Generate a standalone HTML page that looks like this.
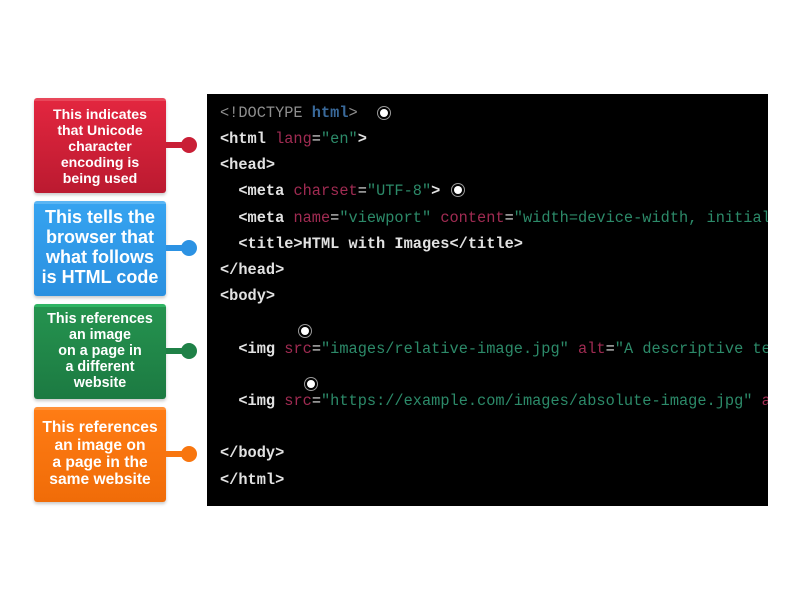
<!DOCTYPE html>
<html lang="en">
<head>
<meta charset="utf-8">
<title>HTML annotations</title>
<style>
html,body{margin:0;padding:0;background:#fff;}
body{width:800px;height:600px;position:relative;overflow:hidden;}
.code{position:absolute;left:207px;top:94px;width:561px;height:412px;background:#000;overflow:hidden;}
.l{position:absolute;left:13px;white-space:pre;font:bold 15.3px/20px "Liberation Mono",monospace;color:#e2e2e2;}
.n{font-weight:normal;}
.g{color:#8f8f8f;font-weight:normal;}
.b{color:#39699a;}
.r{color:#a02b52;font-weight:normal;}
.s{color:#2c8a69;font-weight:normal;}
.box{position:absolute;left:34px;width:132px;border-radius:3px;color:#fff;font-family:"Liberation Sans",sans-serif;font-weight:bold;text-align:center;box-shadow:0 2px 3px rgba(0,0,0,.22);display:flex;align-items:center;justify-content:center;box-sizing:border-box;}
.box div{width:100%;}
.line{position:absolute;left:166px;width:18px;height:6px;}
.dot{position:absolute;left:181px;width:16px;height:16px;border-radius:50%;}
.m{position:absolute;width:8px;height:8px;border-radius:50%;background:#fff;box-shadow:0 0 0 2px #000,0 0 0 3px #999;}
</style>
</head>
<body>
<div class="box" style="top:98px;height:95px;background:linear-gradient(#e2263f,#bb1a30);border-top:3px solid #e8475a;font-size:14.1px;line-height:16px;padding-bottom:3px;"><div>This indicates<br>that Unicode<br>character<br>encoding is<br>being used</div></div>
<div class="line" style="top:142px;background:#c91f36;"></div><div class="dot" style="top:137px;background:#c91f36;"></div>

<div class="box" style="top:201px;height:95px;background:linear-gradient(#36a3f0,#2a90e0);border-top:3px solid #5bb5f3;font-size:18px;line-height:20px;padding-bottom:6px;"><div>This tells the<br>browser that<br>what follows<br>is HTML code</div></div>
<div class="line" style="top:245px;background:#2c92e3;"></div><div class="dot" style="top:240px;background:#2c92e3;"></div>

<div class="box" style="top:304px;height:95px;background:linear-gradient(#25934f,#1c7a42);border-top:3px solid #2fb463;font-size:14.3px;line-height:16px;padding-bottom:4px;"><div>This references<br>an image<br>on a page in<br>a different<br>website</div></div>
<div class="line" style="top:348px;background:#1f8147;"></div><div class="dot" style="top:343px;background:#1f8147;"></div>

<div class="box" style="top:407px;height:95px;background:linear-gradient(#ff7c14,#f06c08);border-top:3px solid #ff9138;font-size:15.6px;line-height:17.3px;padding-bottom:4px;"><div>This references<br>an image on<br>a page in the<br>same website</div></div>
<div class="line" style="top:451px;background:#f8760f;"></div><div class="dot" style="top:446px;background:#f8760f;"></div>

<div class="code">
<div class="l" style="top:9px;"><span class="g">&lt;!DOCTYPE </span><span class="b">html</span><span class="g">&gt;</span></div>
<div class="l" style="top:35px;">&lt;html <span class="r">lang</span><span class="n">=</span><span class="s">"en"</span>&gt;</div>
<div class="l" style="top:61px;">&lt;head&gt;</div>
<div class="l" style="top:87px;">  &lt;meta <span class="r">charset</span><span class="n">=</span><span class="s">"UTF-8"</span>&gt;</div>
<div class="l" style="top:114px;">  &lt;meta <span class="r">name</span><span class="n">=</span><span class="s">"viewport"</span> <span class="r">content</span><span class="n">=</span><span class="s">"width=device-width, initial-scale=1.0"</span>&gt;</div>
<div class="l" style="top:140px;">  &lt;title&gt;HTML with Images&lt;/title&gt;</div>
<div class="l" style="top:166px;">&lt;/head&gt;</div>
<div class="l" style="top:192px;">&lt;body&gt;</div>
<div class="l" style="top:245px;">  &lt;img <span class="r">src</span><span class="n">=</span><span class="s">"images/relative-image.jpg"</span> <span class="r">alt</span><span class="n">=</span><span class="s">"A descriptive text"</span>&gt;</div>
<div class="l" style="top:297px;">  &lt;img <span class="r">src</span><span class="n">=</span><span class="s">"https://example.com/images/absolute-image.jpg"</span> <span class="r">alt</span><span class="n">=</span><span class="s">"A"</span>&gt;</div>
<div class="l" style="top:349px;">&lt;/body&gt;</div>
<div class="l" style="top:376px;">&lt;/html&gt;</div>
<div class="m" style="left:173px;top:15px;"></div>
<div class="m" style="left:247px;top:92px;"></div>
<div class="m" style="left:94px;top:233px;"></div>
<div class="m" style="left:100px;top:286px;"></div>
</div>
</body>
</html>
